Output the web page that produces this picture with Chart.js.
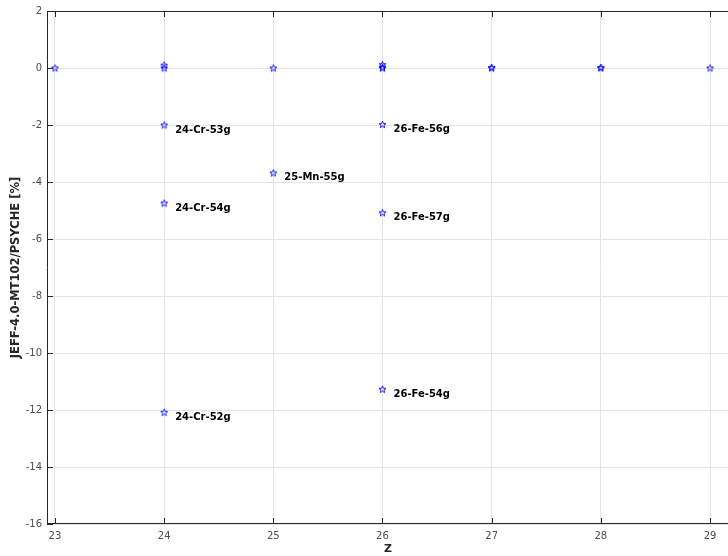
<!DOCTYPE html>
<html>
<head>
<meta charset="utf-8">
<script src="https://cdn.jsdelivr.net/npm/chart.js@4.4.1/dist/chart.umd.min.js"></script>
<style>
  html, body { margin: 0; padding: 0; background: #fff; overflow: hidden; }
  /* the original figure is cropped on the right, so the canvas runs past the window */
  #wrap { width: 734px; height: 556px; }
</style>
</head>
<body>
<div id="wrap"><canvas id="chart"></canvas></div>
<script>
// data
const zValues = [23, 24, 24, 24, 24, 24, 25, 25, 26, 26, 26, 26, 26, 26, 27, 27, 28, 28, 29];
const diffValues = [0, 0.1, 0, -2.0, -4.74, -12.08, 0, -3.68, 0.12, 0.03, 0, -1.98, -5.08, -11.27, 0, 0.02, 0, 0.02, 0];
const pointLabels = ['', '', '', '24-Cr-53g', '24-Cr-54g', '24-Cr-52g', '', '25-Mn-55g', '', '', '', '26-Fe-56g', '26-Fe-57g', '26-Fe-54g', '', '', '', '', ''];
const xTicks = [23, 24, 25, 26, 27, 28, 29];
const yTicks = [-16, -14, -12, -10, -8, -6, -4, -2, 0, 2];

// 5-point star marker, matlab style
function makeStar() {
    const c = document.createElement('canvas');
    c.width = 9; c.height = 9;
    const g = c.getContext('2d');
    g.strokeStyle = '#0000ff';
    g.lineWidth = 0.9;
    g.beginPath();
    for (let i = 0; i < 10; i++) {
        const r = i % 2 === 0 ? 3.7 : 1.5;
        const a = -Math.PI / 2 + i * Math.PI / 5;
        const px = 4.5 + r * Math.cos(a), py = 4.8 + r * Math.sin(a);
        if (i === 0) g.moveTo(px, py); else g.lineTo(px, py);
    }
    g.closePath();
    g.stroke();
    return c;
}

const points = zValues.map((z, i) => ({ x: z, y: diffValues[i] }));

const frame = {
    id: 'frame',
    afterDraw(chart) {
        const ctx = chart.ctx;
        const a = chart.chartArea;
        const xs = chart.scales.x, ys = chart.scales.y;
        ctx.save();
        ctx.strokeStyle = '#262626';
        ctx.lineWidth = 1;
        ctx.beginPath();
        ctx.moveTo(a.left + 0.5, a.top + 0.5);
        ctx.lineTo(a.right, a.top + 0.5);
        ctx.moveTo(a.left + 0.5, a.top);
        ctx.lineTo(a.left + 0.5, a.bottom);
        ctx.moveTo(a.left, a.bottom - 0.5);
        ctx.lineTo(a.right, a.bottom - 0.5);
        // inward ticks
        xTicks.forEach(v => {
            const px = Math.round(xs.getPixelForValue(v)) + 0.5;
            ctx.moveTo(px, a.bottom); ctx.lineTo(px, a.bottom - 6);
            ctx.moveTo(px, a.top); ctx.lineTo(px, a.top + 6);
        });
        yTicks.forEach(v => {
            const py = Math.round(ys.getPixelForValue(v)) + 0.5;
            ctx.moveTo(a.left, py); ctx.lineTo(a.left + 6, py);
        });
        ctx.stroke();

        // point annotations
        ctx.fillStyle = '#000';
        ctx.font = 'bold 10px "DejaVu Sans"';
        ctx.textBaseline = 'middle';
        ctx.textAlign = 'left';
        const meta = chart.getDatasetMeta(0);
        meta.data.forEach((el, i) => {
            if (pointLabels[i]) ctx.fillText(pointLabels[i], el.x + 11, el.y + 5);
        });
        ctx.restore();
    }
};

new Chart(document.getElementById('chart'), {
    type: 'scatter',
    data: {
        datasets: [{
            data: points,
            pointStyle: makeStar(),
            pointRadius: 4,
            borderColor: '#0000ff',
            backgroundColor: '#0000ff'
        }]
    },
    options: {
        responsive: true,
        maintainAspectRatio: false,
        animation: false,
        layout: { padding: { top: 10, right: 0, left: 0, bottom: 0 } },
        plugins: { legend: { display: false }, tooltip: { enabled: false } },
        scales: {
            x: {
                type: 'linear',
                min: 22.927,
                max: 29.174,
                afterBuildTicks: s => { s.ticks = xTicks.map(v => ({ value: v })); },
                afterFit: s => { s.height = 32; },
                grid: { color: '#e3e3e3', drawTicks: false },
                border: { display: false },
                ticks: {
                    color: '#4d4d4d',
                    font: { family: 'DejaVu Sans', size: 10 },
                    padding: 6,
                    maxRotation: 0
                },
                title: {
                    display: true,
                    text: 'Z',
                    color: '#262626',
                    font: { family: 'DejaVu Sans', size: 11, weight: 'bold' },
                    padding: { top: 0, bottom: 0 }
                }
            },
            y: {
                min: -16,
                max: 2,
                afterBuildTicks: s => { s.ticks = yTicks.map(v => ({ value: v })); },
                afterFit: s => { s.width = 47; },
                grid: { color: '#e3e3e3', drawTicks: false },
                border: { display: false },
                ticks: {
                    color: '#4d4d4d',
                    font: { family: 'DejaVu Sans', size: 10 },
                    padding: 5
                },
                title: {
                    display: true,
                    text: 'JEFF-4.0-MT102/PSYCHE [%]',
                    color: '#262626',
                    font: { family: 'DejaVu Sans', size: 11.5, weight: 'bold' },
                    padding: { top: 9, bottom: 4 }
                }
            }
        }
    },
    plugins: [frame]
});
</script>
</body>
</html>
